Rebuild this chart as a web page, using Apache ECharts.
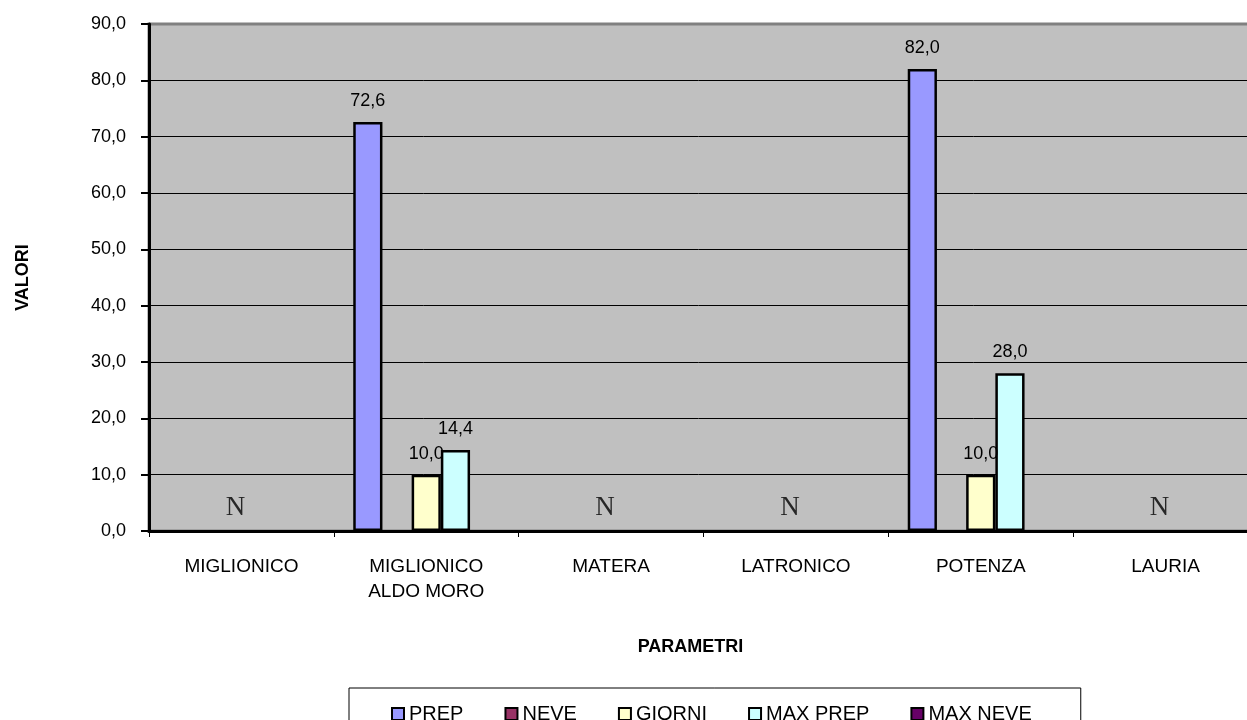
<!DOCTYPE html>
<html>
<head>
<meta charset="utf-8">
<script src="https://cdn.jsdelivr.net/npm/echarts@6/dist/echarts.min.js"></script>
<style>
    html, body { margin: 0; padding: 0; background: #fff; }
    #chart { width: 1247px; height: 720px; }
</style>
</head>
<body>
<div id="chart"></div>
<script>
    // stazioni
    var categories = ['MIGLIONICO', 'MIGLIONICO\nALDO MORO', 'MATERA', 'LATRONICO', 'POTENZA', 'LAURIA'];
    // valori per parametro (null = dato mancante)
    var prep    = [null, 72.6, null, null, 82.0, null];
    var neve    = [null, null, null, null, null, null];
    var giorni  = [null, 10.0, null, null, 10.0, null];
    var maxPrep = [null, 14.4, null, null, 28.0, null];
    var maxNeve = [null, null, null, null, null, null];
    // stazioni senza dati -> "N"
    var noData  = ['N', '', 'N', 'N', '', 'N'];
    var yTicks  = [0, 10, 20, 30, 40, 50, 60, 70, 80, 90];

    var font = 'Liberation Sans, Arial, sans-serif';

    function fmt(v) {
        return Number(v).toFixed(1).replace('.', ',');
    }

    function barSeries(name, data, color) {
        return {
            name: name,
            type: 'bar',
            data: data,
            barGap: '0%',
            barCategoryGap: '21%',
            itemStyle: { color: color, borderColor: '#000', borderWidth: 2.5 },
            label: {
                show: true,
                position: 'top',
                distance: 12,
                color: '#000',
                fontFamily: font,
                fontSize: 18,
                formatter: function (p) { return p.value == null ? '' : fmt(p.value); }
            }
        };
    }

    var myChart = echarts.init(document.getElementById('chart'));

    var option = {
        animation: false,
        backgroundColor: '#fff',
        grid: {
            left: 149,
            top: 24,
            width: 1109,
            bottom: 189,
            outerBoundsMode: 'none',
            containLabel: false,
            show: true,
            backgroundColor: '#C0C0C0',
            borderColor: '#808080',
            borderWidth: 3
        },
        legend: {
            data: ['PREP', 'NEVE', 'GIORNI', 'MAX PREP', 'MAX NEVE'],
            left: 349,
            top: 688,
            padding: [16, 49, 30, 42],
            itemGap: 41,
            itemWidth: 12,
            itemHeight: 12,
            icon: 'rect',
            borderColor: '#000',
            borderWidth: 1,
            borderRadius: 0,
            textStyle: { color: '#000', fontFamily: font, fontSize: 20 }
        },
        xAxis: {
            type: 'category',
            data: categories,
            name: 'PARAMETRI',
            nameLocation: 'middle',
            nameGap: 107,
            nameTextStyle: {
                color: '#000', fontFamily: font, fontSize: 18, fontWeight: 'bold',
                padding: [0, 26, 0, 0]
            },
            axisLine: { lineStyle: { color: '#000', width: 3 } },
            axisTick: { show: true, length: 6, lineStyle: { color: '#000', width: 1 } },
            axisLabel: {
                color: '#000',
                fontFamily: font,
                fontSize: 19,
                lineHeight: 25,
                margin: 23,
                interval: 0
            },
            splitLine: { show: false }
        },
        yAxis: {
            type: 'value',
            min: yTicks[0],
            max: yTicks[yTicks.length - 1],
            interval: 10,
            name: 'VALORI',
            nameLocation: 'middle',
            nameGap: 117,
            nameTextStyle: { color: '#000', fontFamily: font, fontSize: 18, fontWeight: 'bold' },
            axisLine: { show: true, lineStyle: { color: '#000', width: 3 } },
            axisTick: { show: true, length: 8, lineStyle: { color: '#000', width: 2 } },
            axisLabel: {
                color: '#000',
                fontFamily: font,
                fontSize: 18,
                margin: 23,
                formatter: function (v) { return fmt(v); }
            },
            splitLine: {
                show: true,
                showMinLine: false,
                showMaxLine: false,
                lineStyle: { color: '#000', width: 1 }
            }
        },
        series: [
            barSeries('PREP', prep, '#9999FF'),
            barSeries('NEVE', neve, '#993366'),
            barSeries('GIORNI', giorni, '#FFFFCC'),
            barSeries('MAX PREP', maxPrep, '#CCFFFF'),
            barSeries('MAX NEVE', maxNeve, '#660066'),
            {
                name: 'nodata',
                type: 'scatter',
                silent: true,
                symbolSize: 0,
                data: noData.map(function (n) { return n ? 0 : null; }),
                label: {
                    show: true,
                    position: 'top',
                    distance: 10,
                    offset: [-6, 0],
                    color: '#000',
                    fontFamily: 'Liberation Serif, Times New Roman, serif',
                    fontSize: 27,
                    formatter: function (p) { return noData[p.dataIndex]; }
                },
                z: 5
            }
        ]
    };

    myChart.setOption(option);
</script>
</body>
</html>
